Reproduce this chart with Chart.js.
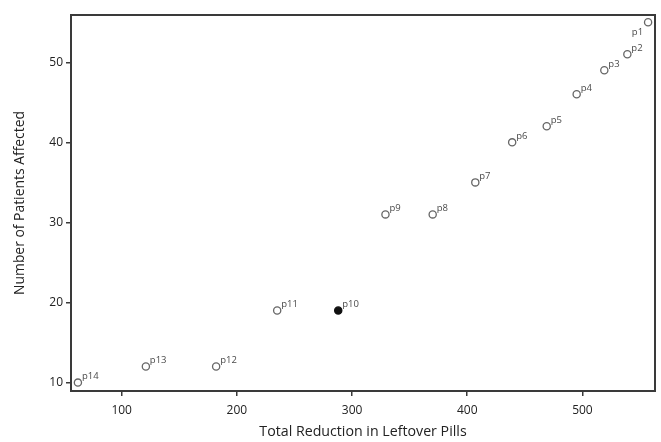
<!DOCTYPE html>
<html>
<head>
<meta charset="utf-8">
<script src="https://cdn.jsdelivr.net/npm/chart.js@4.4.1/dist/chart.umd.min.js"></script>
<style>
  html, body { margin: 0; padding: 0; background: #ffffff; }
  #wrap { width: 661px; height: 442px; }
</style>
</head>
<body>
<div id="wrap"><canvas id="c" width="661" height="442"></canvas></div>
<script>
// ---- data ----
const pointLabels = ['p1','p2','p3','p4','p5','p6','p7','p8','p9','p10','p11','p12','p13','p14'];
const totalReduction = [557, 539, 519, 495, 469, 439, 407, 370, 329, 288, 235, 182, 121, 62];
const patientsAffected = [55, 51, 49, 46, 42, 40, 35, 31, 31, 19, 19, 12, 12, 10];
const highlightedLabel = 'p10';
const xTickValues = [100, 200, 300, 400, 500];
const yTickValues = [10, 20, 30, 40, 50];
const xTitle = 'Total Reduction in Leftover Pills';
const yTitle = 'Number of Patients Affected';

const FONT = "'Open Sans', 'Noto Sans', sans-serif";
const points = totalReduction.map((x, i) => ({ x: x, y: patientsAffected[i], label: pointLabels[i] }));

const framePlugin = {
  id: 'frame',
  afterDraw(chart) {
    const a = chart.chartArea, ctx = chart.ctx;
    ctx.save();
    ctx.strokeStyle = '#3a3a3a';
    ctx.lineWidth = 2;
    ctx.strokeRect(a.left, a.top, a.right - a.left, a.bottom - a.top);
    ctx.restore();
  }
};

const labelPlugin = {
  id: 'pointLabels',
  afterDatasetsDraw(chart) {
    const ctx = chart.ctx;
    const meta = chart.getDatasetMeta(0);
    ctx.save();
    ctx.font = '9.5px ' + FONT;
    ctx.fillStyle = '#4a4a4a';
    ctx.textBaseline = 'middle';
    meta.data.forEach((el, i) => {
      const lab = pointLabels[i];
      if (i === 0) {
        ctx.textAlign = 'right';
        ctx.fillText(lab, el.x - 5, el.y + 10);
      } else {
        ctx.textAlign = 'left';
        ctx.fillText(lab, el.x + 4, el.y - 6);
      }
    });
    ctx.restore();
  }
};

new Chart(document.getElementById('c'), {
  type: 'scatter',
  data: {
    datasets: [{
      data: points,
      pointRadius: 3.6,
      pointHoverRadius: 3.6,
      pointBorderWidth: 1.3,
      pointBorderColor: points.map(p => p.label === highlightedLabel ? '#111111' : '#666666'),
      pointBackgroundColor: points.map(p => p.label === highlightedLabel ? '#111111' : '#ffffff'),
      clip: false
    }]
  },
  options: {
    responsive: false,
    animation: false,
    events: [],
    layout: { padding: { top: 15, right: 6, left: 0, bottom: 0 } },
    plugins: { legend: { display: false }, tooltip: { enabled: false } },
    scales: {
      x: {
        type: 'linear',
        min: 56,
        max: 563,
        afterBuildTicks(scale) { scale.ticks = xTickValues.map(v => ({ value: v })); },
        afterFit(scale) { scale.height = 51; },
        border: { display: false },
        grid: { drawOnChartArea: false, drawTicks: true, tickLength: 5, color: '#3a3a3a', lineWidth: 1.5 },
        ticks: { color: '#222222', font: { family: FONT, size: 12 }, padding: 7, maxRotation: 0 },
        title: { display: true, text: xTitle, color: '#222222', font: { family: FONT, size: 14.2 }, padding: { top: 0, bottom: 2 } }
      },
      y: {
        type: 'linear',
        min: 8.95,
        max: 55.9,
        afterBuildTicks(scale) { scale.ticks = yTickValues.map(v => ({ value: v })); },
        afterFit(scale) { scale.width = 71; },
        border: { display: false },
        grid: { drawOnChartArea: false, drawTicks: true, tickLength: 5, color: '#3a3a3a', lineWidth: 1.5 },
        ticks: { color: '#222222', font: { family: FONT, size: 12 }, padding: 3 },
        title: { display: true, text: yTitle, color: '#222222', font: { family: FONT, size: 13.9 }, padding: { top: 12, bottom: 0 } }
      }
    }
  },
  plugins: [framePlugin, labelPlugin]
});
</script>
</body>
</html>
